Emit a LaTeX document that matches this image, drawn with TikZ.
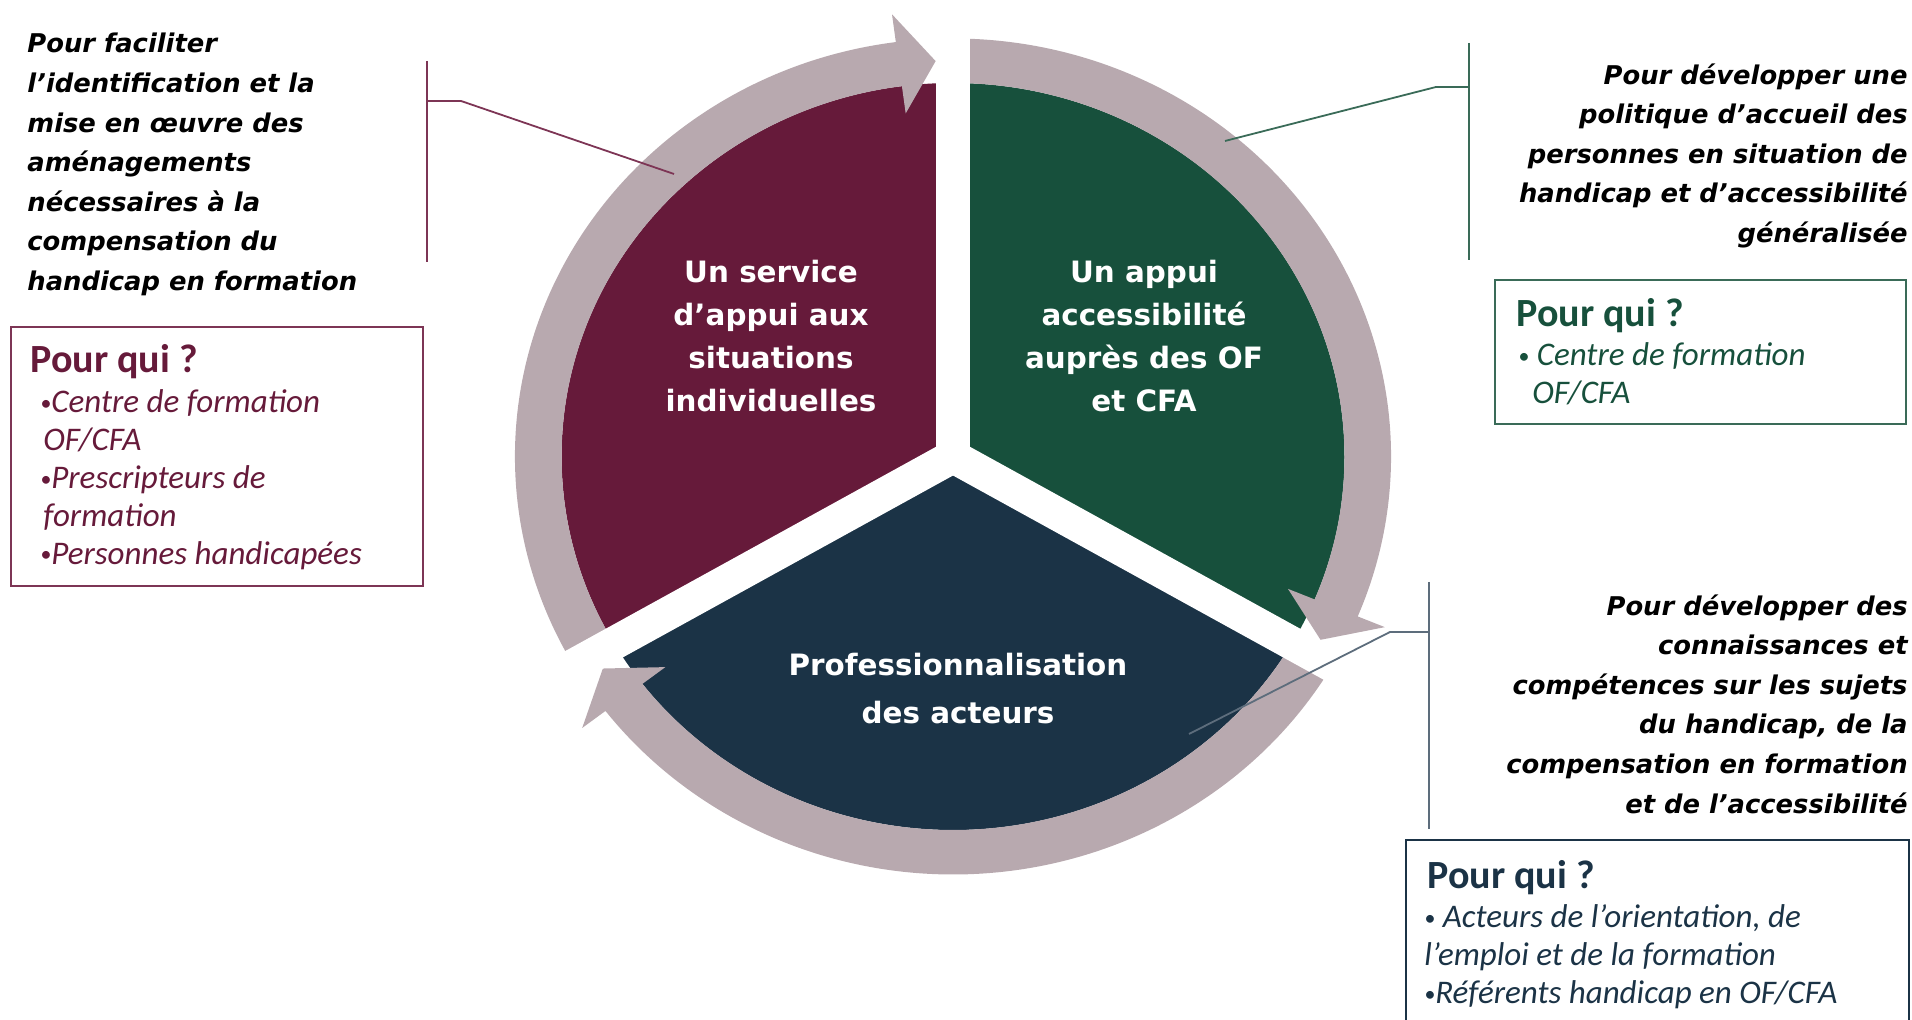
\documentclass[tikz,border=0pt]{standalone}
\usepackage{fontspec}
\setmainfont{Carlito}
\newfontfamily\vera{DejaVu Sans}
\usepackage{tikz}
\usetikzlibrary{positioning}
\definecolor{plum}{HTML}{661A3A}
\definecolor{pine}{HTML}{17503C}
\definecolor{ink}{HTML}{1B3346}
\definecolor{ringgray}{HTML}{B8A9AF}
\definecolor{plumline}{HTML}{7D3555}
\definecolor{pineline}{HTML}{3A6B58}
\definecolor{inkline}{HTML}{5D6D7C}
\newcommand{\whodot}{\raisebox{1.2pt}{\fontsize{11}{11}\selectfont •}}

\begin{document}
\begin{tikzpicture}[x=0.5pt,y=0.5pt,
		wedge/.style={white, font=\vera\bfseries\fontsize{14.7}{21.5}\selectfont, align=center, inner sep=0pt},
		aim/.style={font=\vera\bfseries\itshape\fontsize{12.9}{19.8}\selectfont, inner sep=0pt},
		whobox/.style={draw, line width=0.9pt, inner sep=0pt, anchor=north west},
		whohead/.style={font=\bfseries\fontsize{20}{24}\selectfont, inner sep=0pt, anchor=base west},
		whoitem/.style={font=\itshape\fontsize{16.5}{18.9}\selectfont, inner sep=0pt, align=left, anchor=base west},
		pin/.style={line width=0.9pt}]
	\useasboundingbox (0,0) rectangle (1912,1020);
	\begin{scope}[shift={(953,563.5)}, xscale=1.048]
		\fill[plum] (0,0) -- (90:373.5) arc[start angle=90, end angle=210, radius=373.5] -- cycle;
		\fill[pine] (0,0) -- (-30:373.5) arc[start angle=-30, end angle=90, radius=373.5] -- cycle;
		\fill[ink] (0,0) -- (210:373.5) arc[start angle=210, end angle=330, radius=373.5] -- cycle;
		\foreach \g in {90,-30,-150}
			\fill[ringgray] ({\g+121}:418) arc[start angle=\g+121, end angle=\g+7.5, radius=418]
				-- ({\g+7.5}:446) -- ({\g+2.4}:395.75) -- ({\g+7.5}:346) -- ({\g+7.5}:373.5)
				arc[start angle=\g+7.5, end angle=\g+121, radius=373.5] -- cycle;
		\foreach \g in {90,210,330}
			\fill[white, rotate=\g] (0,-16.5) rectangle (432,16.5);
	\end{scope}

	\node[wedge] (plum-txt) at (771,684) {Un service\\d’appui aux\\situations\\individuelles};
	\node[wedge] (pine-txt) at (1144,684) {Un appui\\accessibilité\\auprès des OF\\et CFA};
	\node[wedge, font=\vera\bfseries\fontsize{14.7}{24}\selectfont] (ink-txt) at (958,331) {Professionnalisation\\des acteurs};

	\coordinate (plum-top) at (427,959);
	\coordinate (plum-bot) at (427,758);
	\coordinate (plum-knee) at (427,919);
	\coordinate (plum-pin) at (674,846);
	\coordinate (pine-top) at (1469,977);
	\coordinate (pine-bot) at (1469,760);
	\coordinate (pine-knee) at (1469,933);
	\coordinate (pine-pin) at (1225,879);
	\coordinate (ink-top) at (1429,438);
	\coordinate (ink-bot) at (1429,191);
	\coordinate (ink-knee) at (1429,388);
	\coordinate (ink-pin) at (1189,286);
	\draw[pin, plumline] (plum-top) -- (plum-bot);
	\draw[pin, plumline] (plum-knee) -- ++(34,0) -- (plum-pin);
	\draw[pin, pineline] (pine-top) -- (pine-bot);
	\draw[pin, pineline] (pine-knee) -- ++(-33,0) -- (pine-pin);
	\draw[pin, inkline] (ink-top) -- (ink-bot);
	\draw[pin, inkline] (ink-knee) -- ++(-39,0) -- (ink-pin);

	\node[aim, align=left, anchor=north west] (plum-aim) at (27,987) {Pour faciliter\\l’identification et la\\mise en œuvre des\\aménagements\\nécessaires à la\\compensation du\\handicap en formation};
	\node[aim, align=right, anchor=north east] (pine-aim) at (1908,957) {Pour développer une\\politique d’accueil des\\personnes en situation de\\handicap et d’accessibilité\\généralisée};
	\node[aim, align=right, anchor=north east] (ink-aim) at (1908,426) {Pour développer des\\connaissances et\\compétences sur les sujets\\du handicap, de la\\compensation en formation\\et de l’accessibilité};

	\node[whobox, draw=plumline, minimum width=206pt, minimum height=129.5pt] (plum-who) at (10,694) {};
	\node[whohead, text=plum] (plum-head) at ([xshift=10pt, yshift=-23.5pt]plum-who.north west) {Pour qui ?};
	\node[whoitem, text=plum] (plum-list) at ([xshift=15pt, yshift=-119.1pt]plum-who.north west) {\whodot Centre de formation\\\hspace*{1.5pt}OF/CFA\\\whodot Prescripteurs de\\\hspace*{1.5pt}formation\\\whodot Personnes handicapées};

	\node[whobox, draw=pineline, minimum width=205.5pt, minimum height=72pt] (pine-who) at (1494,741) {};
	\node[whohead, text=pine] (pine-head) at ([xshift=11pt, yshift=-24pt]pine-who.north west) {Pour qui ?};
	\node[whoitem, text=pine] (pine-list) at ([xshift=12pt, yshift=-62.4pt]pine-who.north west) {\whodot\ Centre de formation\\\hspace*{7pt}OF/CFA};

	\node[whobox, draw=ink, minimum width=251.5pt, minimum height=92.5pt] (ink-who) at (1405,181) {};
	\node[whohead, text=ink] (ink-head) at ([xshift=11pt, yshift=-25pt]ink-who.north west) {Pour qui ?};
	\node[whoitem, text=ink] (ink-list) at ([xshift=9.5pt, yshift=-82.3pt]ink-who.north west) {\whodot\ Acteurs de l’orientation, de\\l’emploi et de la formation\\\whodot Référents handicap en OF/CFA};
\end{tikzpicture}
\end{document}
